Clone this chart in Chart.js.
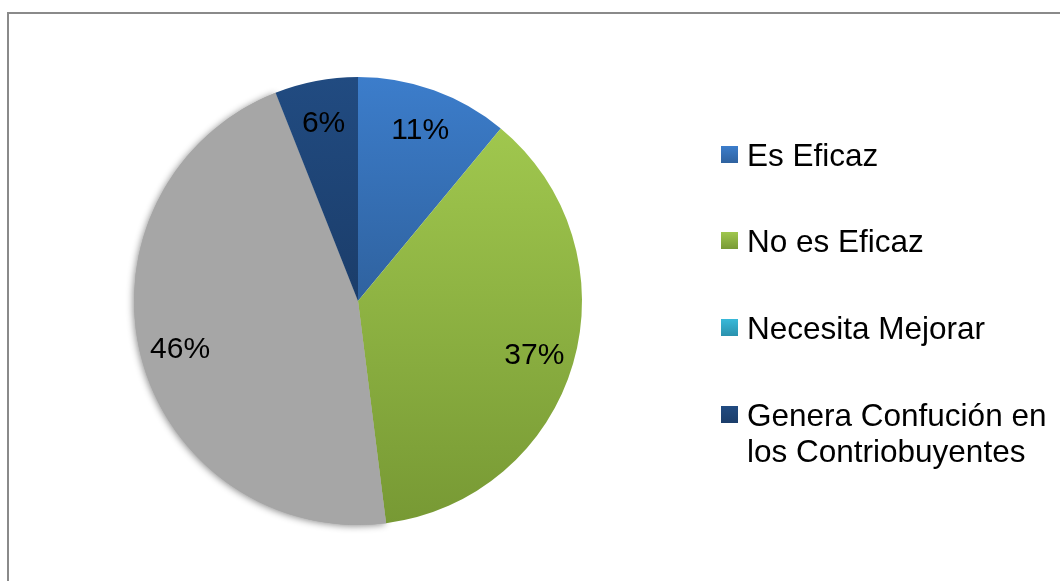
<!DOCTYPE html>
<html lang="es">
<head>
<meta charset="utf-8">
<title>Eficacia</title>
<script src="https://cdn.jsdelivr.net/npm/chart.js@4/dist/chart.umd.min.js"></script>
<style>
  html, body { margin: 0; padding: 0; background: #ffffff; }
  #wrap { position: relative; width: 1060px; height: 581px; overflow: hidden; }
  #frame {
    position: absolute; left: 7px; top: 12px; width: 1100px; height: 620px;
    border-left: 2px solid #8a8a8a; border-top: 2px solid #8a8a8a;
  }
  #chart { position: absolute; left: 0; top: 0; }
  #legend {
    position: absolute; left: 721px; top: 136.5px; width: 335px;
    display: flex; flex-direction: column; gap: 50.7px;
    font-family: "Liberation Sans", Arial, sans-serif; font-size: 31.5px;
    line-height: 36px; color: #000;
  }
  .item { display: flex; align-items: flex-start; }
  .sw { flex: 0 0 17px; width: 17px; height: 17px; margin-top: 9px; margin-right: 9px; }
  .txt { flex: 1 1 auto; }
</style>
</head>
<body>
<div id="wrap">
  <div id="frame"></div>
  <canvas id="chart" width="1060" height="581"></canvas>
  <div id="legend"></div>
</div>
<script>
// Categories and their shares (percent)
const categories = ["Es Eficaz", "No es Eficaz", "Necesita Mejorar", "Genera Confución en los Contriobuyentes"];
const shares = [11, 37, 46, 6];

// Slice fills: [top colour, bottom colour, stop where bottom colour is reached]
const sliceFills = [
  ["#3c7dcb", "#2f629f", 0.5],
  ["#a0c74e", "#779934", 1.0],
  ["#a6a6a6", "#a6a6a6", 1.0],
  ["#214b81", "#1b3d6a", 0.5]
];
// Legend swatches
const swatchFills = [
  ["#3c7dcb", "#2f629f"],
  ["#a0c74e", "#789a35"],
  ["#38b9d9", "#2a91ad"],
  ["#214b81", "#1b3d6a"]
];

const FONT = '"Liberation Sans", Arial, sans-serif';

function sliceColour(ctx) {
  const chart = ctx.chart;
  const area = chart.chartArea;
  const f = sliceFills[ctx.dataIndex];
  if (!area) return f[0];
  const g = chart.ctx.createLinearGradient(0, area.top, 0, area.bottom);
  if (ctx.dataIndex === 1) {
    g.addColorStop(0.115, f[0]);
  } else {
    g.addColorStop(0, f[0]);
  }
  g.addColorStop(f[2], f[1]);
  return g;
}

// Soft shadow under the grey slice
const greyShadow = {
  id: 'greyShadow',
  beforeDatasetsDraw(chart) {
    const arc = chart.getDatasetMeta(0).data[2];
    if (!arc) return;
    const c = chart.ctx;
    const p = arc.getProps(['x', 'y', 'startAngle', 'endAngle', 'outerRadius']);
    c.save();
    c.shadowColor = 'rgba(0,0,0,0.45)';
    c.shadowBlur = 7;
    c.shadowOffsetX = -1;
    c.shadowOffsetY = 1;
    c.fillStyle = '#a6a6a6';
    c.beginPath();
    c.moveTo(p.x, p.y);
    c.arc(p.x, p.y, p.outerRadius, p.startAngle, p.endAngle);
    c.closePath();
    c.fill();
    c.restore();
  }
};

// Percentage labels inside each slice
const sliceLabels = {
  id: 'sliceLabels',
  afterDatasetsDraw(chart) {
    const c = chart.ctx;
    const meta = chart.getDatasetMeta(0);
    const data = chart.data.datasets[0].data;
    const total = data.reduce((a, b) => a + b, 0);
    c.save();
    c.font = '30px ' + FONT;
    c.fillStyle = '#000';
    c.textAlign = 'center';
    c.textBaseline = 'middle';
    meta.data.forEach((arc, i) => {
      const p = arc.getProps(['x', 'y', 'startAngle', 'endAngle', 'outerRadius']);
      const mid = (p.startAngle + p.endAngle) / 2;
      const r = p.outerRadius * 0.82;
      const txt = Math.round(data[i] / total * 100) + '%';
      c.fillText(txt, p.x + Math.cos(mid) * r, p.y + Math.sin(mid) * r + 3);
    });
    c.restore();
  }
};

const chart = new Chart(document.getElementById('chart'), {
  type: 'pie',
  data: {
    labels: categories,
    datasets: [{
      data: shares,
      backgroundColor: sliceColour,
      borderWidth: 0
    }]
  },
  options: {
    responsive: false,
    animation: false,
    layout: { padding: { left: 134, right: 478, top: 77, bottom: 56 } },
    plugins: {
      legend: { display: false },
      tooltip: { enabled: false }
    }
  },
  plugins: [greyShadow, sliceLabels]
});

// Legend built from the category list
const legend = document.getElementById('legend');
categories.forEach((name, i) => {
  const item = document.createElement('div');
  item.className = 'item';
  const sw = document.createElement('span');
  sw.className = 'sw';
  sw.style.background = 'linear-gradient(' + swatchFills[i][0] + ',' + swatchFills[i][1] + ')';
  const t = document.createElement('span');
  t.className = 'txt';
  t.textContent = name;
  item.appendChild(sw);
  item.appendChild(t);
  legend.appendChild(item);
});
</script>
</body>
</html>
